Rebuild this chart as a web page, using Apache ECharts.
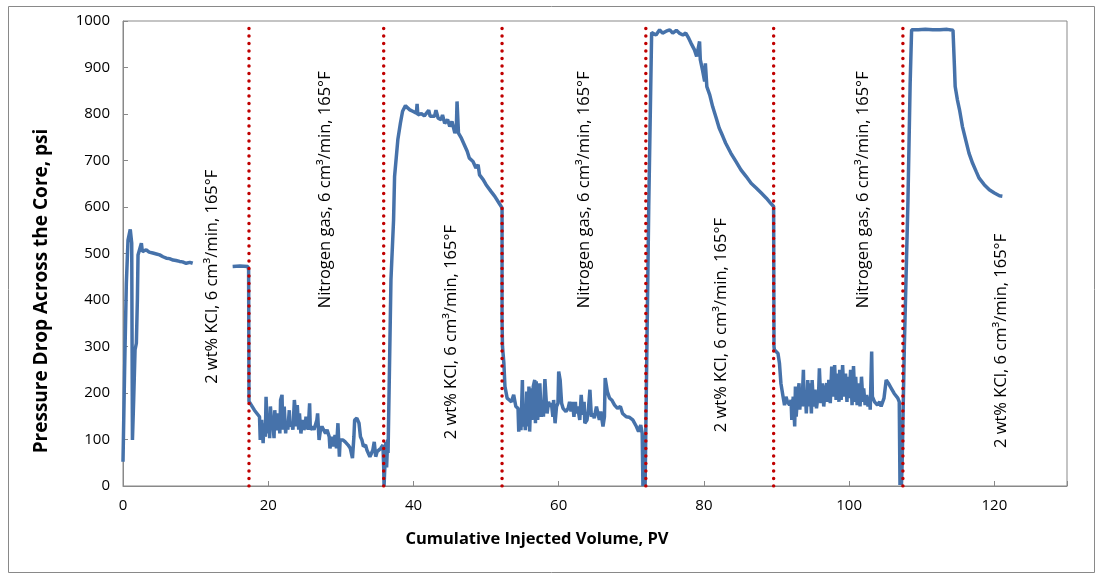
<!DOCTYPE html>
<html>
<head>
<meta charset="utf-8">
<script src="https://cdn.jsdelivr.net/npm/echarts@6/dist/echarts.min.js"></script>
<style>
  html, body { margin: 0; padding: 0; background: #fff; }
  #main { width: 1098px; height: 575px; }
</style>
</head>
<body>
<div id="main"></div>
<script>
// cumulative injected volume (PV), pressure drop (psi)
var kcl1 = [[0,52],[0.23,257],[0.46,436],[0.69,529],[1.0,552],[1.2,522],[1.3,99],[1.47,185],[1.66,293],[1.84,307],[1.98,400],[2.07,497],[2.3,501],[2.53,522],[2.67,504],[3.2,508],[3.6,503],[4.1,501],[4.6,499],[5.05,497],[5.5,493],[5.97,490],[6.4,489],[6.9,486],[7.3,485],[7.8,483],[8.2,482],[8.7,479],[9.2,481],[9.6,479]];
var kcl1b = [[15.1,472],[16.1,473],[17.2,472],[17.3,465]];
var n2a = [[17.35,182],[17.45,178],[18.1,163],[18.8,149],[18.9,99],[19.1,142],[19.3,92],[19.4,135],[19.6,106],[19.7,192],[19.9,113],[20.0,156],[20.2,103],[20.3,171],[20.5,128],[20.6,142],[20.8,103],[20.9,163],[21.1,120],[21.2,117],[21.4,156],[21.6,113],[21.7,185],[21.9,196],[22.0,121],[22.2,171],[22.4,113],[22.5,135],[22.7,121],[22.9,163],[23.0,128],[23.2,135],[23.4,121],[23.6,185],[23.9,128],[24.0,174],[24.2,121],[24.3,156],[24.5,113],[24.7,142],[24.9,121],[25.1,128],[25.2,149],[25.5,121],[25.7,178],[25.8,121],[26.1,128],[26.3,121],[26.5,117],[26.7,142],[26.8,156],[27.0,99],[27.2,121],[27.4,128],[27.6,121],[27.9,113],[28.1,121],[28.4,106],[28.5,81],[28.8,106],[29.0,85],[29.2,110],[29.4,81],[29.6,135],[29.8,63],[29.9,99],[30.3,99],[30.6,95],[31.0,88],[31.3,81],[31.6,60],[31.8,106],[31.9,142],[32.2,146],[32.5,135],[32.7,106],[32.9,99],[33.1,85],[33.4,88],[33.6,77],[33.8,74],[34.0,63],[34.2,63],[34.4,77],[34.6,95],[34.8,63],[35.0,74],[35.2,77],[35.5,81],[35.7,85],[35.8,88],[35.9,42],[35.95,0]];
var kcl2 = [[36.1,0],[36.2,95],[36.3,40],[36.45,100],[36.5,71],[36.9,443],[37.26,572],[37.4,666],[37.5,669],[37.85,745],[38.2,780],[38.5,806],[38.9,818],[39.2,813],[39.5,809],[39.9,806],[40.4,802],[40.5,822],[40.6,798],[41.1,801],[41.5,796],[42.1,808],[42.3,795],[42.9,795],[43.1,808],[43.4,791],[43.8,788],[44.0,798],[44.3,780],[44.7,788],[45.0,773],[45.3,784],[45.7,759],[45.9,766],[46.0,827],[46.2,759],[46.6,748],[47.0,734],[47.4,720],[47.7,705],[48.2,698],[48.6,684],[48.9,691],[49.1,669],[49.6,659],[50.0,648],[50.7,633],[51.2,623],[51.8,608],[52.2,598]];
var n2b = [[52.2,357],[52.26,300],[52.45,264],[52.6,214],[52.9,189],[53.2,185],[53.5,181],[53.8,196],[54.1,171],[54.4,167],[54.5,117],[54.65,164],[54.8,120],[55.0,228],[55.1,128],[55.3,164],[55.4,120],[55.6,203],[55.8,128],[55.9,214],[56.0,117],[56.2,210],[56.3,142],[56.5,214],[56.7,228],[56.8,135],[56.9,225],[57.1,142],[57.3,192],[57.4,221],[57.6,149],[57.8,178],[57.9,149],[58.1,230],[58.3,178],[58.4,156],[58.6,181],[58.8,171],[59.0,178],[59.2,149],[59.3,185],[59.5,135],[59.7,171],[59.9,178],[60.0,246],[60.2,228],[60.4,178],[60.6,167],[60.8,171],[61.0,160],[61.3,167],[61.5,181],[61.7,160],[61.9,181],[62.1,149],[62.3,181],[62.4,156],[62.6,171],[62.9,142],[63.1,196],[63.3,153],[63.5,181],[63.6,135],[63.9,142],[64.1,167],[64.3,207],[64.5,149],[64.7,156],[64.9,146],[65.2,171],[65.4,156],[65.6,142],[65.8,160],[66.1,128],[66.3,149],[66.4,232],[66.7,203],[67.0,189],[67.3,185],[67.7,174],[68.1,167],[68.5,171],[68.8,156],[69.3,149],[69.7,148],[70.2,142],[70.7,128],[71.0,117],[71.3,131],[71.5,113],[71.6,0]];
var kcl3 = [[71.7,60],[71.9,0],[72.4,600],[72.8,975],[72.96,978],[73.4,970],[73.9,981],[74.3,974],[74.8,978],[75.3,981],[75.7,974],[76.2,980],[76.6,974],[77.1,970],[77.5,974],[77.9,963],[78.2,953],[78.7,938],[79.0,924],[79.4,956],[79.5,917],[79.8,895],[80.1,870],[80.2,909],[80.4,859],[80.8,841],[81.2,816],[81.7,791],[82.1,770],[82.6,752],[83.0,737],[83.7,716],[84.4,698],[85.1,680],[85.8,666],[86.5,651],[87.2,641],[87.9,630],[88.6,619],[89.2,608],[89.6,601]];
var n2c = [[89.65,300],[89.7,293],[90.2,285],[90.4,264],[90.6,221],[90.9,192],[91.1,174],[91.3,192],[91.5,181],[91.8,174],[92.0,185],[92.1,142],[92.3,192],[92.5,128],[92.6,214],[92.7,149],[92.9,192],[93.1,221],[93.2,164],[93.4,207],[93.5,171],[93.7,250],[93.8,171],[94.0,192],[94.1,156],[94.3,228],[94.4,171],[94.6,221],[94.8,156],[94.9,228],[95.1,171],[95.3,207],[95.5,167],[95.7,192],[95.8,203],[95.9,253],[96.1,178],[96.3,221],[96.5,171],[96.7,207],[96.9,221],[97.0,181],[97.2,228],[97.4,178],[97.6,257],[97.8,192],[98.0,260],[98.2,185],[98.4,242],[98.6,181],[98.7,250],[98.9,185],[99.1,260],[99.3,192],[99.5,242],[99.7,181],[99.8,235],[100.0,189],[100.2,250],[100.4,174],[100.6,258],[100.8,181],[100.9,235],[101.1,174],[101.3,221],[101.5,171],[101.7,235],[101.9,181],[102.0,210],[102.2,174],[102.4,196],[102.6,171],[102.8,192],[102.9,164],[103.1,289],[103.2,192],[103.5,181],[103.7,185],[103.9,174],[104.2,181],[104.4,171],[104.6,174],[104.8,189],[105.1,228],[105.4,221],[105.8,210],[106.2,199],[106.7,189],[106.9,181],[107.0,2],[107.1,85],[107.2,2]];
var kcl4 = [[107.3,50],[107.6,300],[108.1,615],[108.4,866],[108.6,981],[109.5,981],[110.5,982],[111.5,981],[112.5,981],[113.5,982],[114.3,980],[114.5,902],[114.6,859],[114.9,831],[115.2,809],[115.6,773],[116.1,741],[116.5,716],[117.0,694],[117.5,676],[117.9,662],[118.6,648],[119.3,637],[120.0,630],[120.7,624],[121.1,623]];

// stage boundaries (PV)
var boundaries = [17.35, 35.9, 52.2, 72.0, 89.6, 107.4];

// stage annotations: [PV, psi at text centre, text]
var kclText = '2 wt% KCl, 6 cm\u00b3/min, 165\u00b0F';
var n2Text = 'Nitrogen gas, 6 cm\u00b3/min, 165\u00b0F';
var stageLabels = [
    [12.3, 450, kclText],
    [27.9, 637, n2Text],
    [45.2, 331, kclText],
    [63.5, 637, n2Text],
    [82.4, 346, kclText],
    [102.0, 637, n2Text],
    [121.0, 312, kclText]
];

var pressure = kcl1.concat([['-', '-']], kcl1b, n2a, kcl2, n2b, kcl3, n2c, kcl4);

var dom = document.getElementById('main');
var myChart = echarts.init(dom);

var font = 'Open Sans';
var series = [{
    name: 'Pressure drop',
    type: 'line',
    data: pressure,
    showSymbol: false,
    symbol: 'none',
    connectNulls: false,
    lineStyle: { color: '#4672AA', width: 3.5 },
    z: 2,
    markPoint: {
        symbol: 'circle',
        symbolSize: 0,
        silent: true,
        label: {
            show: true,
            position: 'inside',
            rotate: 90,
            color: '#000',
            fontFamily: font,
            fontSize: 16.5,
            formatter: function (p) { return p.name; }
        },
        data: stageLabels.map(function (s) {
            return { name: s[2], coord: [s[0], s[1]] };
        })
    }
}];

boundaries.forEach(function (b) {
    series.push({
        type: 'line',
        data: [[b, 0], [b, 1000]],
        showSymbol: false,
        symbol: 'none',
        silent: true,
        z: 5,
        lineStyle: { color: '#C00000', width: 3.5, type: [0.1, 7.4], cap: 'round' }
    });
});

myChart.setOption({
    animation: false,
    grid: {
        left: 123, top: 21, right: 31, bottom: 89,
        show: true, borderColor: '#898989', borderWidth: 1
    },
    xAxis: {
        type: 'value',
        min: 0, max: 130, interval: 20,
        axisLine: { show: true, lineStyle: { color: '#898989' } },
        axisTick: { show: true, inside: true, length: 5, lineStyle: { color: '#898989' } },
        splitLine: { show: false },
        axisLabel: {
            color: '#000', fontFamily: font, fontSize: 15, margin: 12,
            formatter: function (v) { return v > 120 ? '' : String(v); }
        }
    },
    yAxis: {
        type: 'value',
        min: 0, max: 1000, interval: 100,
        axisLine: { show: true, lineStyle: { color: '#898989' } },
        axisTick: { show: true, inside: true, length: 5, lineStyle: { color: '#898989' } },
        splitLine: { show: false },
        axisLabel: {
            color: '#000', fontFamily: font, fontSize: 15, margin: 13,
            formatter: function (v) { return String(v); }
        }
    },
    graphic: [
        {
            type: 'rect', left: 6, top: 4, silent: true,
            shape: { width: 1086, height: 566 },
            style: { fill: 'none', stroke: '#898989', lineWidth: 1 }
        },
        {
            type: 'text', x: 537, y: 539, silent: true,
            style: {
                text: 'Cumulative Injected Volume, PV', fill: '#000',
                font: 'bold 16.5px "Open Sans"', align: 'center', verticalAlign: 'middle'
            }
        },
        {
            type: 'text', x: 42, y: 291, rotation: Math.PI / 2, silent: true,
            style: {
                text: 'Pressure Drop Across the Core, psi', fill: '#000',
                font: 'bold 19px "Open Sans"', align: 'center', verticalAlign: 'middle'
            }
        }
    ],
    series: series
});

window.onresize = function () {
    myChart.resize();
};
</script>
</body>
</html>
